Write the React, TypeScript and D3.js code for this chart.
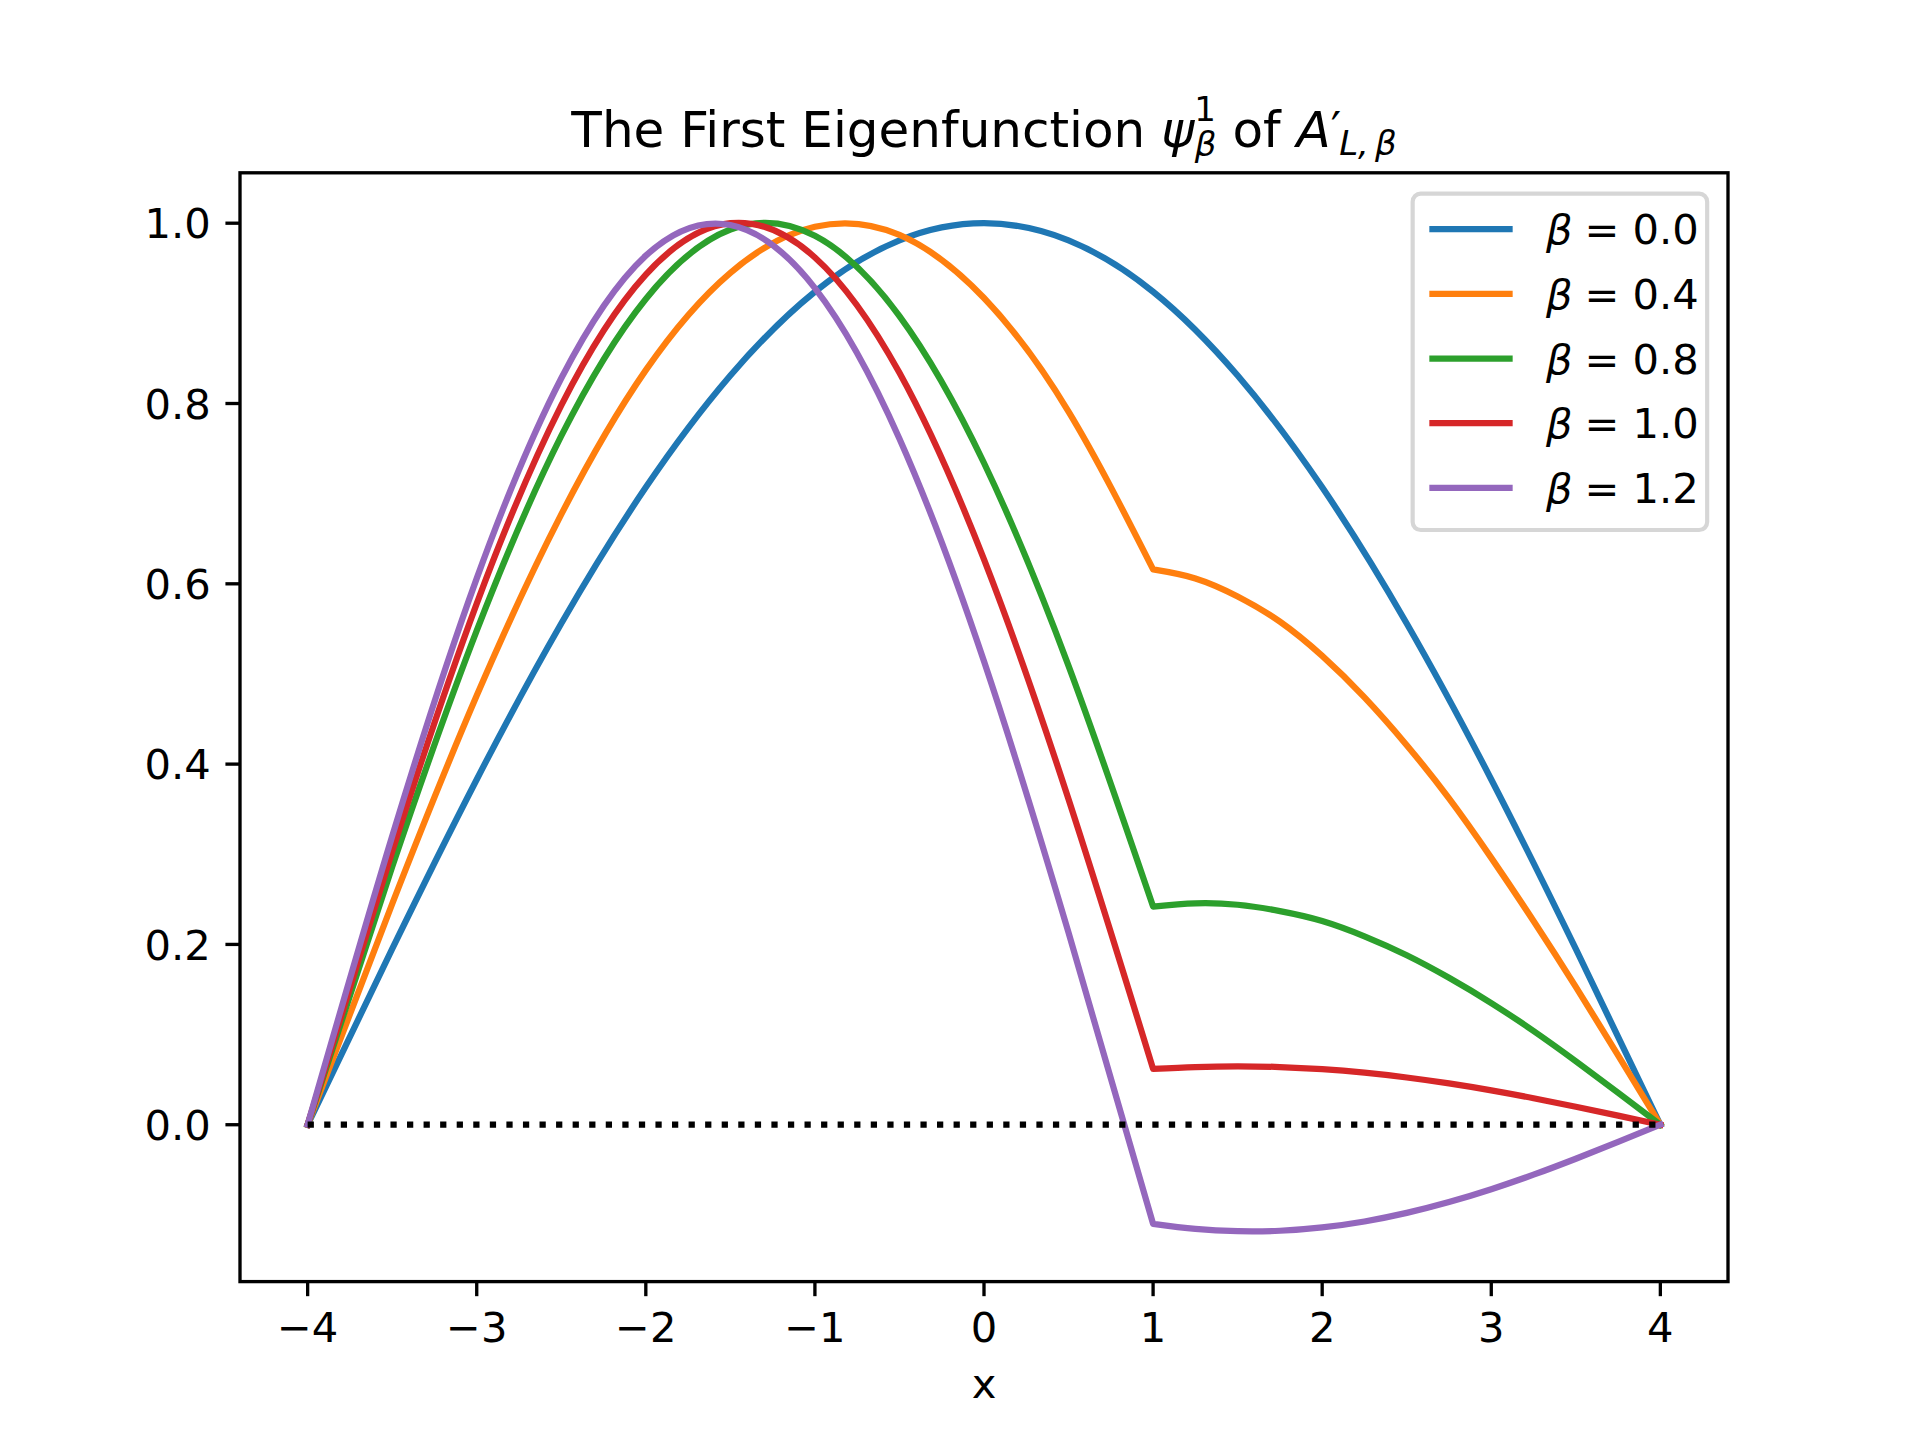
import React from 'react'
import * as d3 from 'd3'

// sample points (the curves have a kink at x = 1)
const xLeft = [-4, -3.5, -3, -2.5, -2, -1.5, -1, -0.5, 0, 0.5, 1]
const xRight = [1, 1.25, 1.5, 1.75, 2, 2.25, 2.5, 2.75, 3, 3.25, 3.5, 3.75, 4]

const betaLabels = ['0.0', '0.4', '0.8', '1.0', '1.2']
const seriesColors = ['#1f77b4', '#ff7f0e', '#2ca02c', '#d62728', '#9467bd']

const psiLeft = [
  [0, 0.195, 0.383, 0.556, 0.707, 0.831, 0.924, 0.981, 1.0, 0.981, 0.924],
  [0, 0.245, 0.476, 0.677, 0.837, 0.945, 0.996, 0.987, 0.917, 0.791, 0.616],
  [0, 0.286, 0.548, 0.764, 0.916, 0.993, 0.986, 0.897, 0.734, 0.509, 0.242],
  [0, 0.303, 0.578, 0.798, 0.943, 1.0, 0.962, 0.834, 0.627, 0.361, 0.062],
  [0, 0.32, 0.606, 0.828, 0.964, 0.998, 0.928, 0.761, 0.514, 0.213, -0.11]
]
const psiRight = [
  [0.924, 0.882, 0.831, 0.773, 0.707, 0.634, 0.556, 0.471, 0.383, 0.29, 0.195, 0.098, 0],
  [0.616, 0.606, 0.586, 0.558, 0.52, 0.474, 0.421, 0.362, 0.296, 0.226, 0.153, 0.077, 0],
  [0.242, 0.2456, 0.244, 0.237, 0.226, 0.209, 0.188, 0.163, 0.135, 0.104, 0.0705, 0.0356, 0],
  [0.062, 0.064, 0.0648, 0.064, 0.0616, 0.0577, 0.0524, 0.0458, 0.0381, 0.0294, 0.02, 0.0101, 0],
  [-0.11, -0.1156, -0.1181, -0.1176, -0.1139, -0.1073, -0.0978, -0.0858, -0.0715, -0.0554, -0.0377, -0.0191, 0]
]

const xTicks = [-4, -3, -2, -1, 0, 1, 2, 3, 4]
const yTicks = [0, 0.2, 0.4, 0.6, 0.8, 1.0]

const W = 1920
const H = 1440
const FONT = 'DejaVu Sans'
const PT = 300 / 72

export default function App() {
  // matplotlib default axes box
  const left = 0.125 * W
  const right = 0.9 * W
  const top = H - 0.88 * H
  const bottom = H - 0.11 * H

  const allY = [...psiLeft.flat(), ...psiRight.flat()]
  const [yMin, yMax] = d3.extent(allY) as [number, number]
  const yPad = (yMax - yMin) * 0.05
  const x = d3.scaleLinear().domain([-4.4, 4.4]).range([left, right])
  const y = d3.scaleLinear().domain([yMin - yPad, yMax + yPad]).range([bottom, top])

  // natural spline is index-parametrised, so each run below is evenly spaced
  const line = d3
    .line<[number, number]>()
    .x(d => x(d[0]))
    .y(d => y(d[1]))
    .curve(d3.curveNatural)

  const paths = psiLeft.map((ys, i) => {
    const l: [number, number][] = xLeft.map((xv, j) => [xv, ys[j]])
    const r: [number, number][] = xRight.map((xv, j) => [xv, psiRight[i][j]])
    if (i === 0) {
      // smooth curve, no kink
      const even = r.filter((_, j) => j % 2 === 0)
      return line([...l, ...even.slice(1)]) as string
    }
    return (line(l) as string) + (line(r) as string).replace(/^M/, 'L')
  })

  const lw = 1.5 * PT
  const tickLen = 3.5 * PT
  const spineW = 0.8 * PT
  const fs = 10 * PT

  // legend layout
  const legPad = 0.5 * fs
  const legRight = right - legPad
  const legTop = top + legPad
  const legW = 294.5
  const legLeft = legRight - legW
  const rowH = 64.7
  const legH = 336.4
  const handleX0 = legLeft + 0.4 * fs
  const handleX1 = handleX0 + 2 * fs
  const textX = handleX1 + 0.8 * fs
  const row0 = legTop + 35.5

  return (
    <svg
      width={W}
      height={H}
      style={{ position: 'absolute', left: 0, top: 0, background: '#fff' }}
      fontFamily={FONT}
    >
      <rect x={0} y={0} width={W} height={H} fill="#fff" />

      {/* title */}
      <text x={(left + right) / 2} y={147} textAnchor="middle" fontSize={12 * PT} fill="#000">
        {'The First Eigenfunction '}
        <tspan fontStyle="italic">ψ</tspan>
        <tspan fontSize={34} dy={-26}>1</tspan>
        <tspan fontSize={34} fontStyle="italic" dx={-21} dy={35}>β</tspan>
        <tspan dy={-9}>{' of '}</tspan>
        <tspan fontStyle="italic">A</tspan>
        <tspan fontSize={46} dy={-2}>′</tspan>
        <tspan fontSize={34} fontStyle="italic" dx={-2} dy={10}>L,</tspan>
        <tspan fontSize={34} fontStyle="italic" dx={6}>β</tspan>
      </text>

      {/* curves */}
      {paths.map((d, i) => (
        <path
          key={i}
          d={d}
          fill="none"
          stroke={seriesColors[i]}
          strokeWidth={lw}
          strokeLinejoin="round"
          strokeLinecap="square"
        />
      ))}

      {/* zero line */}
      <line
        x1={x(-4)}
        x2={x(4)}
        y1={y(0)}
        y2={y(0)}
        stroke="#000"
        strokeWidth={lw}
        strokeDasharray={`${lw} ${1.65 * lw}`}
      />

      {/* spines */}
      <rect
        x={left}
        y={top}
        width={right - left}
        height={bottom - top}
        fill="none"
        stroke="#000"
        strokeWidth={spineW}
      />

      {/* x ticks */}
      {xTicks.map(t => (
        <g key={`x${t}`}>
          <line x1={x(t)} x2={x(t)} y1={bottom} y2={bottom + tickLen} stroke="#000" strokeWidth={spineW} />
          <text x={x(t)} y={1342} textAnchor="middle" fontSize={fs} fill="#000">
            {t < 0 ? `\u2212${-t}` : `${t}`}
          </text>
        </g>
      ))}
      <text x={(left + right) / 2} y={1398} textAnchor="middle" fontSize={fs} fill="#000">
        x
      </text>

      {/* y ticks */}
      {yTicks.map(t => (
        <g key={`y${t}`}>
          <line x1={left - tickLen} x2={left} y1={y(t)} y2={y(t)} stroke="#000" strokeWidth={spineW} />
          <text x={left - 2 * tickLen} y={y(t) + 0.3645 * fs} textAnchor="end" fontSize={fs} fill="#000">
            {t.toFixed(1)}
          </text>
        </g>
      ))}

      {/* legend */}
      <rect
        x={legLeft}
        y={legTop}
        width={legW}
        height={legH}
        rx={8}
        fill="#fff"
        fillOpacity={0.8}
        stroke="#cccccc"
        strokeOpacity={0.8}
        strokeWidth={1 * PT}
      />
      {betaLabels.map((b, i) => {
        const ry = row0 + i * rowH
        return (
          <g key={b}>
            <line x1={handleX0} x2={handleX1} y1={ry} y2={ry} stroke={seriesColors[i]} strokeWidth={lw} />
            <text x={textX} y={ry + 0.3645 * fs} fontSize={fs} fill="#000">
              <tspan fontStyle="italic">β</tspan>
              <tspan dx={12}>=</tspan>
              <tspan dx={13}>{b}</tspan>
            </text>
          </g>
        )
      })}
    </svg>
  )
}
